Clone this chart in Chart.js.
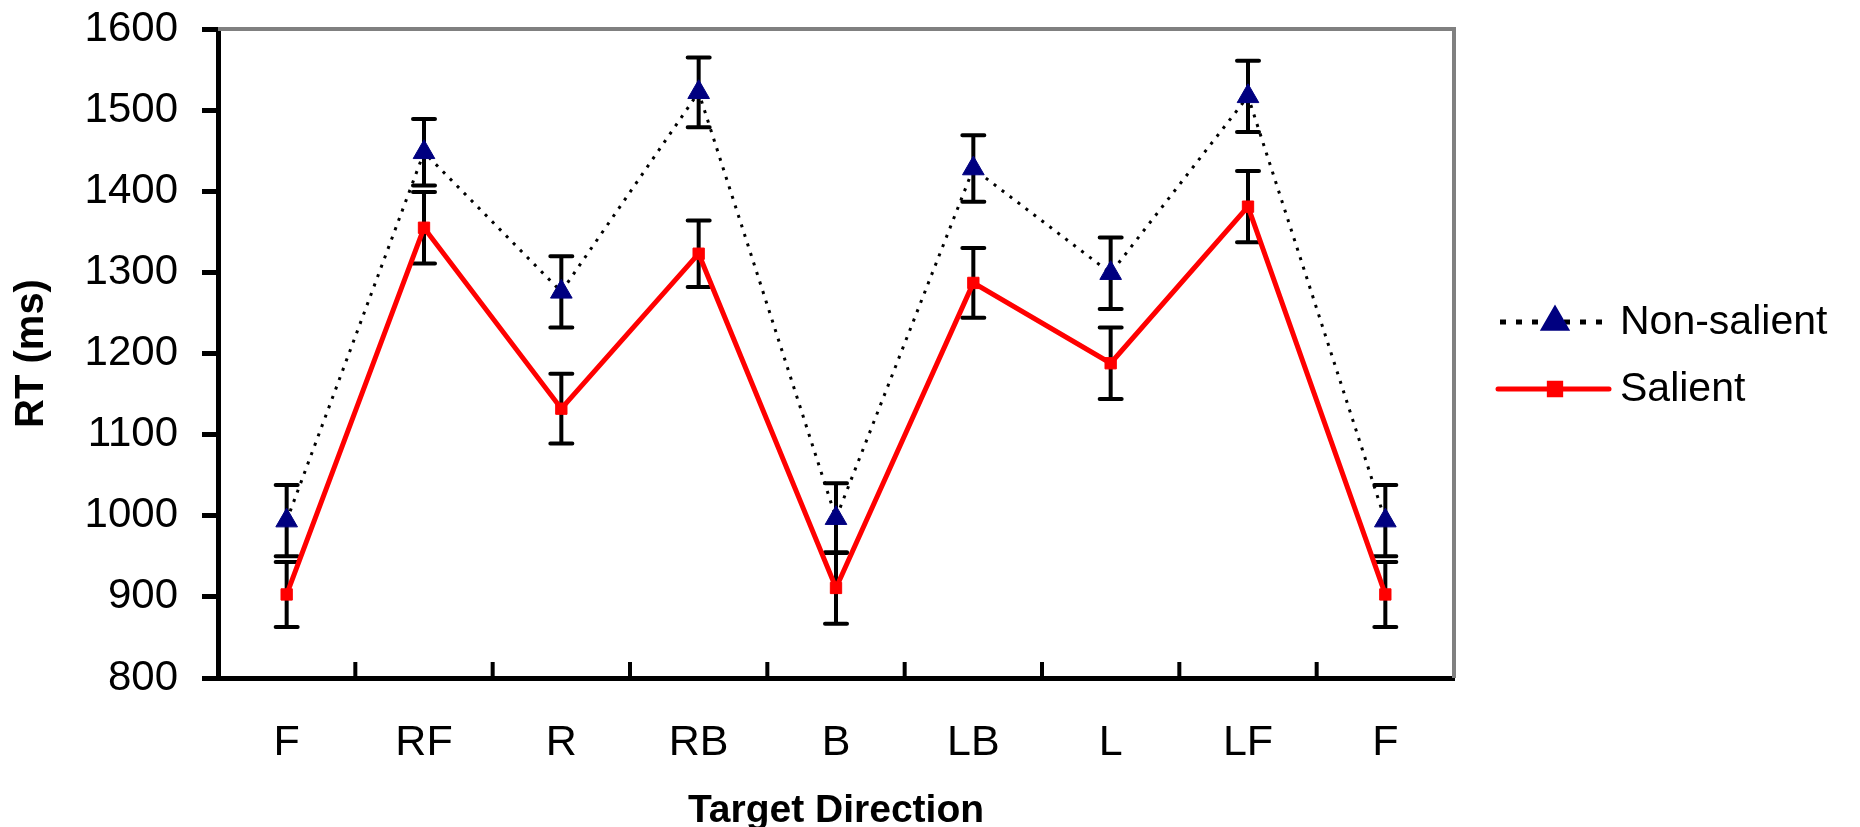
<!DOCTYPE html>
<html><head><meta charset="utf-8">
<script src="https://cdn.jsdelivr.net/npm/chart.js@4/dist/chart.umd.min.js"></script>
<style>html,body{margin:0;padding:0;background:#fff;overflow:hidden}#wrap{width:1860px;height:827px}</style>
</head><body><div id="wrap"><canvas id="c" width="1860" height="827"></canvas></div>
<script>
const categories = ['F', 'RF', 'R', 'RB', 'B', 'LB', 'L', 'LF', 'F'];
const nonSalient = [994, 1448, 1276, 1522, 997, 1428, 1299, 1517, 994];
const nonSalientErr = [44, 41, 44, 43, 43, 41, 44, 44, 44];
const salient = [903, 1355, 1132, 1323, 911, 1287, 1188, 1381, 903];
const salientErr = [40, 44, 43, 41, 44, 43, 44, 44, 40];
const yMin = 800, yMax = 1600, yStep = 100;
const seriesNames = ['Non-salient', 'Salient'];

const FONT = "'Liberation Sans', Arial, sans-serif";

const errorBars = {
  id: 'errorBars',
  beforeDatasetsDraw(chart) {
    const ctx = chart.ctx, ys = chart.scales.y;
    chart.data.datasets.forEach((ds, di) => {
      const meta = chart.getDatasetMeta(di);
      ctx.save();
      ctx.strokeStyle = '#000';
      ctx.lineWidth = 4;
      ctx.lineCap = 'round';
      meta.data.forEach((pt, i) => {
        const v = ds.data[i], e = ds.errors[i];
        const x = pt.x, yt = ys.getPixelForValue(v + e), yb = ys.getPixelForValue(v - e);
        ctx.beginPath();
        ctx.moveTo(x, yt); ctx.lineTo(x, yb);
        ctx.moveTo(x - 11, yt); ctx.lineTo(x + 11, yt);
        ctx.moveTo(x - 11, yb); ctx.lineTo(x + 11, yb);
        ctx.stroke();
      });
      ctx.restore();
    });
  }
};

const frame = {
  id: 'frame',
  beforeDatasetsDraw(chart) {
    const ctx = chart.ctx, a = chart.chartArea, xs = chart.scales.x;
    ctx.save();
    ctx.strokeStyle = '#808080';
    ctx.lineWidth = 4;
    ctx.beginPath();
    ctx.moveTo(a.left, a.top); ctx.lineTo(a.right, a.top); ctx.lineTo(a.right, a.bottom);
    ctx.stroke();
    ctx.strokeStyle = '#000';
    ctx.lineWidth = 4;
    ctx.beginPath();
    for (let i = 1; i < categories.length; i++) {
      const x = (xs.getPixelForValue(i - 1) + xs.getPixelForValue(i)) / 2;
      ctx.moveTo(x, a.bottom); ctx.lineTo(x, a.bottom - 16);
    }
    ctx.stroke();
    ctx.restore();
  }
};

const customLegend = {
  id: 'customLegend',
  afterDraw(chart) {
    const ctx = chart.ctx;
    const rows = [322, 389];
    chart.data.datasets.forEach((ds, di) => {
      const y = rows[di];
      ctx.save();
      ctx.strokeStyle = ds.borderColor;
      ctx.lineWidth = 5;
      ctx.setLineDash(di === 0 ? [6, 10] : []);
      ctx.lineCap = di === 0 ? 'butt' : 'round';
      ctx.beginPath();
      ctx.moveTo(di === 0 ? 1500 : 1498, y); ctx.lineTo(1609, y);
      ctx.stroke();
      ctx.setLineDash([]);
      ctx.fillStyle = ds.pointBackgroundColor;
      ctx.strokeStyle = ds.pointBorderColor;
      Chart.helpers.drawPoint(ctx, {pointStyle: ds.pointStyle, radius: ds.pointRadius, rotation: 0, borderWidth: 1}, 1555, y);
      ctx.fillStyle = '#000';
      ctx.font = '41px ' + FONT;
      ctx.textBaseline = 'middle';
      ctx.textAlign = 'left';
      ctx.fillText(ds.label, 1620, y + 1);
      ctx.restore();
    });
  }
};

new Chart(document.getElementById('c'), {
  type: 'line',
  data: {
    labels: categories,
    datasets: [
      {
        label: seriesNames[0],
        data: nonSalient,
        errors: nonSalientErr,
        borderColor: '#000000',
        borderWidth: 3,
        borderDash: [3, 7],
        pointStyle: 'triangle',
        pointRadius: 12.5,
        pointBackgroundColor: '#000080',
        pointBorderColor: '#000080',
        pointBorderWidth: 1,
        tension: 0,
        fill: false
      },
      {
        label: seriesNames[1],
        data: salient,
        errors: salientErr,
        borderColor: '#FF0000',
        borderWidth: 5,
        pointStyle: 'rect',
        pointRadius: 8,
        pointBackgroundColor: '#FF0000',
        pointBorderColor: '#FF0000',
        pointBorderWidth: 1,
        tension: 0,
        fill: false
      }
    ]
  },
  options: {
    responsive: false,
    animation: false,
    devicePixelRatio: 1,
    layout: {padding: {top: 29, right: 406, left: 0, bottom: 0}},
    plugins: {legend: {display: false}, tooltip: {enabled: false}},
    scales: {
      x: {
        type: 'category',
        offset: true,
        grid: {display: true, drawOnChartArea: false, drawTicks: false},
        border: {display: true, color: '#000', width: 5},
        ticks: {color: '#000', font: {family: FONT, size: 43}, padding: 39, maxRotation: 0, autoSkip: false},
        title: {display: true, text: 'Target Direction', color: '#000', font: {family: FONT, size: 39, weight: 'bold'}, padding: {top: 0, bottom: -8}},
        afterFit(s) { s.height = 149; s.paddingLeft = 0; s.paddingRight = 0; }
      },
      y: {
        min: yMin, max: yMax,
        grid: {display: true, drawOnChartArea: false, drawTicks: true, tickLength: 16, tickWidth: 5, tickColor: '#000'},
        border: {display: true, color: '#000', width: 5},
        ticks: {stepSize: yStep, color: '#000', font: {family: FONT, size: 42}, padding: 24, callback: v => String(v)},
        title: {display: true, text: 'RT (ms)', color: '#000', font: {family: FONT, size: 40, weight: 'bold'}, padding: {top: 8, bottom: 0}},
        afterFit(s) { s.width = 218; s.paddingTop = 0; s.paddingBottom = 0; }
      }
    }
  },
  plugins: [errorBars, frame, customLegend]
});
</script></body></html>
